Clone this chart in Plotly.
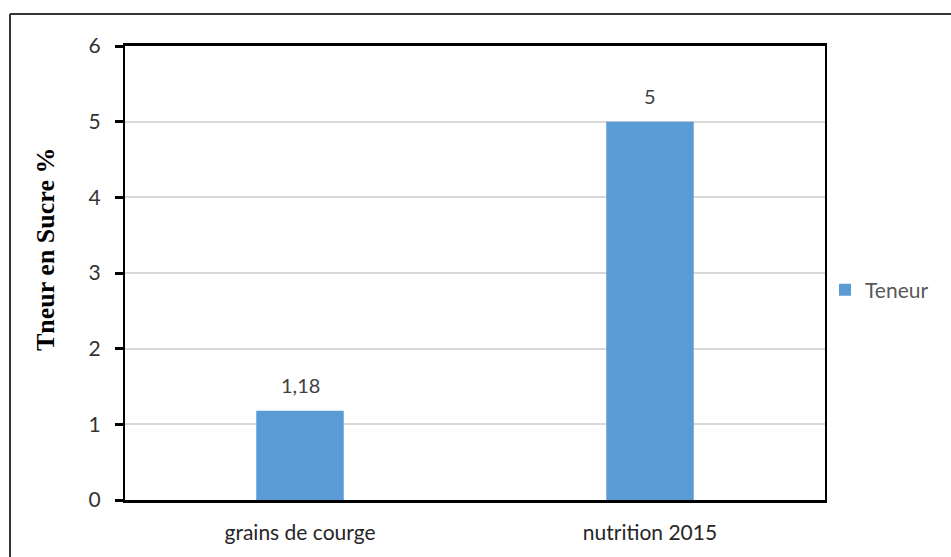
import plotly.graph_objects as go

# Sugar content data
categories = ["grains de courge", "nutrition 2015"]
teneur = [1.18, 5]
teneur_labels = ["1,18", "5"]
y_ticks = [0, 1, 2, 3, 4, 5, 6]

W, H = 951, 557
L, R, T, B = 125, 126, 46, 57
pw, ph = W - L - R, H - T - B

def px_x(x):
    return (x - L) / pw

def px_y(y):
    return (H - B - y) / ph

fig = go.Figure()
fig.add_trace(go.Bar(
    x=categories, y=teneur, name="Teneur",
    marker=dict(color="#5B9BD5", line=dict(width=0)),
))

# value labels above the bars
for c, v, lab in zip(categories, teneur, teneur_labels):
    fig.add_annotation(x=c, y=v, text=lab, showarrow=False, yanchor="bottom",
                       yshift=12,
                       font=dict(family="Lato, sans-serif", size=20, color="#404040"))

fig.update_layout(
    width=W, height=H,
    margin=dict(l=L, r=R, t=T, b=B),
    paper_bgcolor="white", plot_bgcolor="white",
    bargap=0.75,
    showlegend=True,
    legend=dict(x=px_x(825), y=px_y(290), xanchor="left", yanchor="middle",
                font=dict(family="Lato, sans-serif", size=21, color="#595959"),
                itemwidth=30, bgcolor="rgba(0,0,0,0)"),
    xaxis=dict(showline=True, linecolor="black", linewidth=3, mirror=True,
               ticks="", showgrid=False, ticklabelstandoff=12,
               tickfont=dict(family="Lato, sans-serif", size=21, color="#262626")),
    yaxis=dict(range=[0, 6], tickvals=y_ticks, showline=True, linecolor="black",
               linewidth=2, mirror=True, ticks="outside", ticklen=8, tickwidth=3,
               tickcolor="black", showgrid=True, gridcolor="#D9D9D9", gridwidth=2,
               zeroline=False, ticklabelstandoff=10,
               tickfont=dict(family="Lato, sans-serif", size=21, color="#333333")),
    annotations=list(fig.layout.annotations) + [dict(
        text="<b>Tneur en Sucre %</b>", textangle=-90,
        x=px_x(45), y=px_y(250), xref="paper", yref="paper",
        xanchor="center", yanchor="middle", showarrow=False,
        font=dict(family="Liberation Serif, Times New Roman, serif", size=26, color="black"),
    )],
    shapes=[
        dict(type="line", xref="paper", yref="paper",
             x0=px_x(10), x1=px_x(W + 5), y0=px_y(14), y1=px_y(14),
             line=dict(color="#333333", width=2)),
        dict(type="line", xref="paper", yref="paper",
             x0=px_x(10), x1=px_x(10), y0=px_y(14), y1=px_y(H + 5),
             line=dict(color="#333333", width=2)),
    ],
)

fig.write_html("out.html")
